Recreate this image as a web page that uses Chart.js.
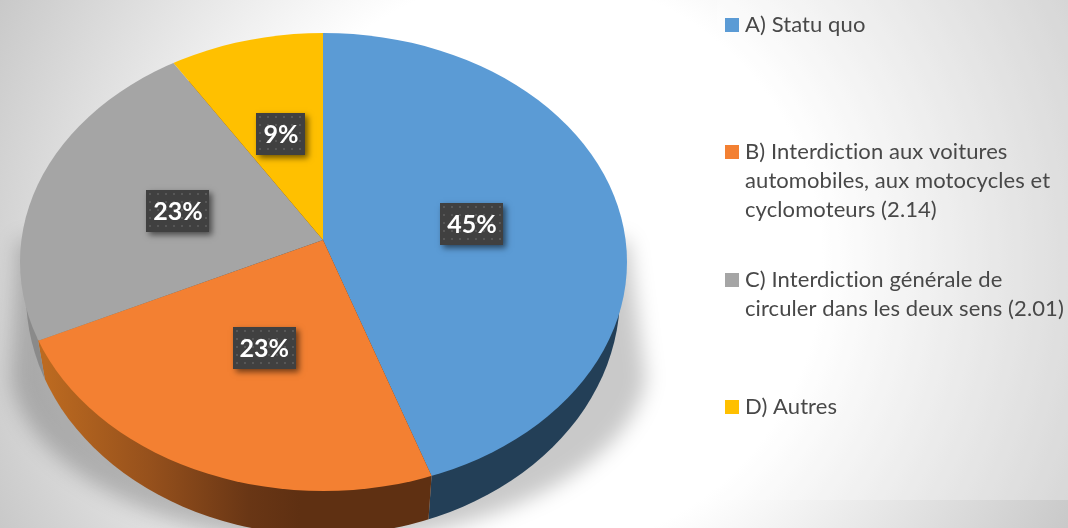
<!DOCTYPE html>
<html>
<head>
<meta charset="utf-8">
<script src="https://cdn.jsdelivr.net/npm/chart.js@4"></script>
<style>
html,body{margin:0;padding:0;width:1068px;height:528px;overflow:hidden}
#bg{position:absolute;left:0;top:0;width:1068px;height:528px;background:radial-gradient(circle 600px at 534px 264px,#ffffff 0%,#ffffff 48%,#c8c8c8 100%)}
#panel{position:absolute;left:717px;top:0;width:351px;height:500px;background:rgba(255,255,255,.25)}
#wrap{position:absolute;left:0;top:0;width:1068px;height:528px}
</style>
</head>
<body>
<div id="bg"></div><div id="panel"></div>
<div id="wrap"><canvas id="c" width="1068" height="528"></canvas></div>
<script>
const categories = ["A) Statu quo","B) Interdiction aux voitures automobiles, aux motocycles et cyclomoteurs (2.14)","C) Interdiction générale de circuler dans les deux sens (2.01)","D) Autres"];
const shares = [44.7, 23.3, 23, 9];
const colors = ["#5B9BD5","#F38032","#A5A5A5","#FFC000"];
const legendLines = [["A) Statu quo"],["B) Interdiction aux voitures","automobiles, aux motocycles et","cyclomoteurs (2.14)"],["C) Interdiction générale de","circuler dans les deux sens (2.01)"],["D) Autres"]];

/* view geometry of the tilted disc */
const apex = {x:323, y:240};
const axis = {x:302, y:227};
const persp = -0.096;
const face = {x:323.5, y:262, rx:303.5, ry:229};
const side = {x:323, y:295, rx:297, ry:240};
const vanish = {x:326, y:1980};
const legendStyle = {font:'22px Lato', color:'#484848', textX:745, swatchX:725, size:14, baselines:[32,159,287,414], line:29};

function ellipsePath(ctx,e){ctx.beginPath();ctx.ellipse(e.x,e.y,e.rx,e.ry,0,0,Math.PI*2);}
function toView(ctx,arc,cx,cy){
  const f=1.3/arc.outerRadius;
  ctx.translate(cx,cy);ctx.scale(axis.x*f,axis.y*f);ctx.translate(-arc.x,-arc.y);
}
function rim(phi){
  const w=1+persp*Math.sin(phi);
  return {x:apex.x+axis.x*Math.cos(phi)/w, y:apex.y+axis.y*Math.sin(phi)/w};
}
function farOnRay(p,extra){
  const t=(vanish.y-0)/(vanish.y-p.y);
  return {x:vanish.x+(p.x-vanish.x)*t+extra, y:0};
}
function dots(ctx){
  const t=document.createElement('canvas');t.width=8;t.height=8;
  const g=t.getContext('2d');g.fillStyle='#404040';g.fillRect(0,0,8,8);
  g.fillStyle='#575757';g.fillRect(3,3,2,2);
  return ctx.createPattern(t,'repeat');
}
const tilt={
  id:'tilt',
  beforeDatasetDraw(chart,args){
    const ctx=chart.ctx, arcs=args.meta.data;
    /* cast shadow */
    ctx.save();
    ctx.filter='blur(10px)';
    ctx.fillStyle='rgba(0,0,0,.21)';
    ctx.beginPath();
    ctx.moveTo(apex.x+305,apex.y);
    ctx.lineTo(apex.x+323,apex.y+140);
    ctx.bezierCurveTo(apex.x+305,apex.y+235,apex.x+150,apex.y+300,apex.x,apex.y+305);
    ctx.bezierCurveTo(apex.x-150,apex.y+300,apex.x-295,apex.y+235,apex.x-312,apex.y+140);
    ctx.lineTo(apex.x-305,apex.y);
    ctx.closePath();ctx.fill();
    ctx.restore();
    /* side wall, one band per slice, bounded by the slice ends on the rim */
    const lg=ctx.createLinearGradient(45,0,300,0);
    lg.addColorStop(0,'#BC6A20');lg.addColorStop(.42,'#95501C');lg.addColorStop(.8,'#693615');lg.addColorStop(1,'#5F3012');
    const walls=['#233F57',lg,'#8A8A8A','#8A6800'];
    arcs.forEach((a,i)=>{
      const s=Math.max(a.startAngle,0), e=Math.min(a.endAngle,Math.PI);
      if(e<=s) return;
      const ps=farOnRay(rim(s), s<=0?80:0), pe=farOnRay(rim(e), e>=Math.PI?-80:0);
      ctx.save();
      ctx.beginPath();ctx.moveTo(vanish.x,vanish.y);ctx.lineTo(ps.x,ps.y);ctx.lineTo(pe.x,pe.y);ctx.closePath();ctx.clip();
      ellipsePath(ctx,side);ctx.fillStyle=walls[i];ctx.fill();
      ctx.restore();
    });
    /* top face: library draws it, perspective-clipped */
    ctx.save();
    ellipsePath(ctx,face);ctx.clip();
    toView(ctx,arcs[0],apex.x,apex.y);
  },
  afterDatasetDraw(chart){chart.ctx.restore();},
  afterDraw(chart){
    const ctx=chart.ctx, arcs=chart.getDatasetMeta(0).data;
    const pat=dots(ctx);
    ctx.save();
    ctx.font='bold 25px Lato';
    ctx.textAlign='center';ctx.textBaseline='middle';
    shares.forEach((v,i)=>{
      const a=arcs[i], m=(a.startAngle+a.endAngle)/2;
      const cx=apex.x+.5*axis.x*Math.cos(m), cy=apex.y+.5*axis.y*Math.sin(m)+3;
      const t=Math.round(v)+'%';
      const w=Math.round(ctx.measureText(t).width)+14, h=42;
      const x0=Math.round(cx-w/2), y0=Math.round(cy-h/2);
      ctx.save();
      ctx.shadowColor='rgba(0,0,0,.55)';ctx.shadowBlur=6;ctx.shadowOffsetX=3;ctx.shadowOffsetY=3;
      ctx.fillStyle='#404040';ctx.fillRect(x0,y0,w,h);
      ctx.restore();
      ctx.save();
      ctx.translate(x0,y0);
      ctx.fillStyle=pat;ctx.fillRect(0,0,w,h);
      ctx.restore();
      ctx.fillStyle='#fff';ctx.fillText(t,cx,cy+1);
    });
    ctx.restore();
    /* legend */
    ctx.save();
    ctx.font=legendStyle.font;ctx.textAlign='left';ctx.textBaseline='alphabetic';
    ctx.letterSpacing='0.09px';
    legendLines.forEach((lines,i)=>{
      const b=legendStyle.baselines[i];
      ctx.fillStyle=colors[i];
      ctx.fillRect(legendStyle.swatchX,b-legendStyle.size,legendStyle.size,legendStyle.size);
      ctx.fillStyle=legendStyle.color;
      lines.forEach((l,j)=>ctx.fillText(l,legendStyle.textX,b+j*legendStyle.line));
    });
    ctx.restore();
  }
};
new Chart(document.getElementById('c'),{
  type:'pie',
  data:{labels:categories,datasets:[{data:shares,backgroundColor:colors,borderWidth:0,clip:false}]},
  options:{responsive:false,animation:false,
    plugins:{legend:{display:false},tooltip:{enabled:false}}},
  plugins:[tilt]
});
</script>
</body>
</html>
